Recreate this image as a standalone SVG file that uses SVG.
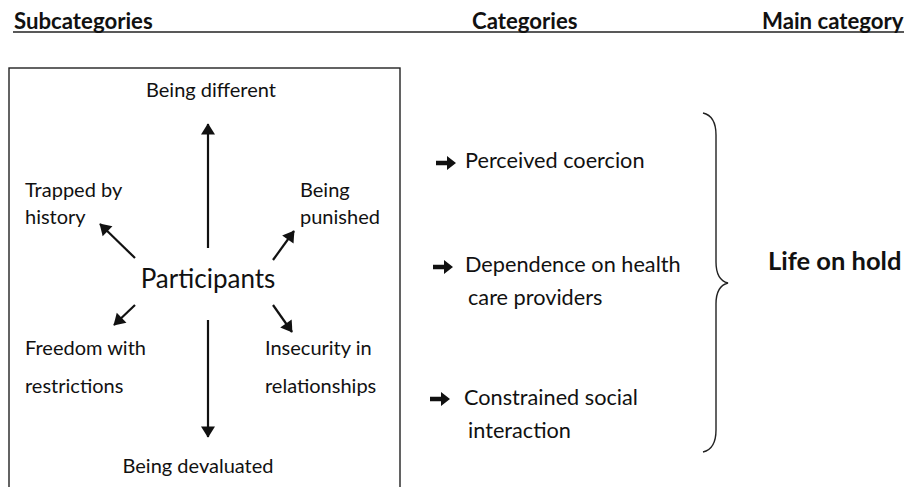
<svg xmlns="http://www.w3.org/2000/svg" width="904" height="487" viewBox="0 0 904 487">
<defs>
<style>
text{font-family:Lato,"Liberation Sans",sans-serif;fill:#111;}
.h{font-weight:bold;font-size:22.2px;}
.t{font-size:20px;}
.r{font-size:21.7px;}
.p{font-size:26px;}
.b{font-weight:bold;font-size:25.5px;}
.c{stroke:#111;stroke-width:2.2;fill:none;marker-end:url(#ah);}
.bul{fill:#111;}
</style>
<marker id="ah" viewBox="0 0 10 10" refX="9" refY="5" markerWidth="7" markerHeight="7" markerUnits="userSpaceOnUse" orient="auto" overflow="visible">
<path d="M-6,-5 L10,5 L-6,15 Z" fill="#111" transform="translate(0,-0) scale(1)"/>
</marker>
<path id="bl" d="M0,-2.2 H11 V-7 L20,0 L11,7 V2.2 H0 Z"/>
</defs>
<g id="headers">
<line x1="13" y1="32" x2="904" y2="32" stroke="#222" stroke-width="1.6"/>
<text class="h" x="14" y="29">Subcategories</text>
<text class="h" x="472" y="29">Categories</text>
<text class="h" x="762" y="29">Main category</text>
</g>
<g id="box">
<rect x="9" y="68" width="391" height="440" fill="none" stroke="#222" stroke-width="1.4"/>
</g>
<g id="participants"><text class="p" x="208" y="288" text-anchor="middle">Participants</text></g>
<g id="being-different"><text class="t" x="211" y="97" text-anchor="middle">Being different</text></g>
<g id="trapped"><text class="t" x="25" y="197">Trapped by</text><text class="t" x="25" y="224">history</text></g>
<g id="punished"><text class="t" x="300" y="197">Being</text><text class="t" x="300" y="224">punished</text></g>
<g id="freedom"><text class="t" x="25" y="355">Freedom with</text><text class="t" x="25" y="393">restrictions</text></g>
<g id="insecurity"><text class="t" x="265" y="355">Insecurity in</text><text class="t" x="265" y="393">relationships</text></g>
<g id="devaluated"><text class="t" x="198" y="473" text-anchor="middle">Being devaluated</text></g>
<g id="connectors">
<line class="c" x1="208" y1="248" x2="208" y2="124"/>
<line class="c" x1="208" y1="320" x2="208" y2="437"/>
<line class="c" x1="135" y1="258" x2="100" y2="224"/>
<line class="c" x1="273" y1="260" x2="294" y2="231"/>
<line class="c" x1="135" y1="305" x2="114" y2="325"/>
<line class="c" x1="273" y1="305" x2="292" y2="332"/>
</g>
<g id="cat-coercion"><use href="#bl" class="bul" x="436" y="163"/><text class="r" x="465" y="168">Perceived coercion</text></g>
<g id="cat-dependence"><use href="#bl" class="bul" x="433" y="267"/><text class="r" x="465" y="272">Dependence on health</text><text class="r" x="468" y="305">care providers</text></g>
<g id="cat-social"><use href="#bl" class="bul" x="430" y="399"/><text class="r" x="464" y="405">Constrained social</text><text class="r" x="468" y="438">interaction</text></g>
<g id="brace"><path d="M703,113 Q716,116 716,135 L716,262 Q716,280 728,283 Q716,286 716,304 L716,430 Q716,449 703,452" fill="none" stroke="#222" stroke-width="1.4"/></g>
<g id="main"><text class="b" x="768" y="270">Life on hold</text></g>
</svg>
